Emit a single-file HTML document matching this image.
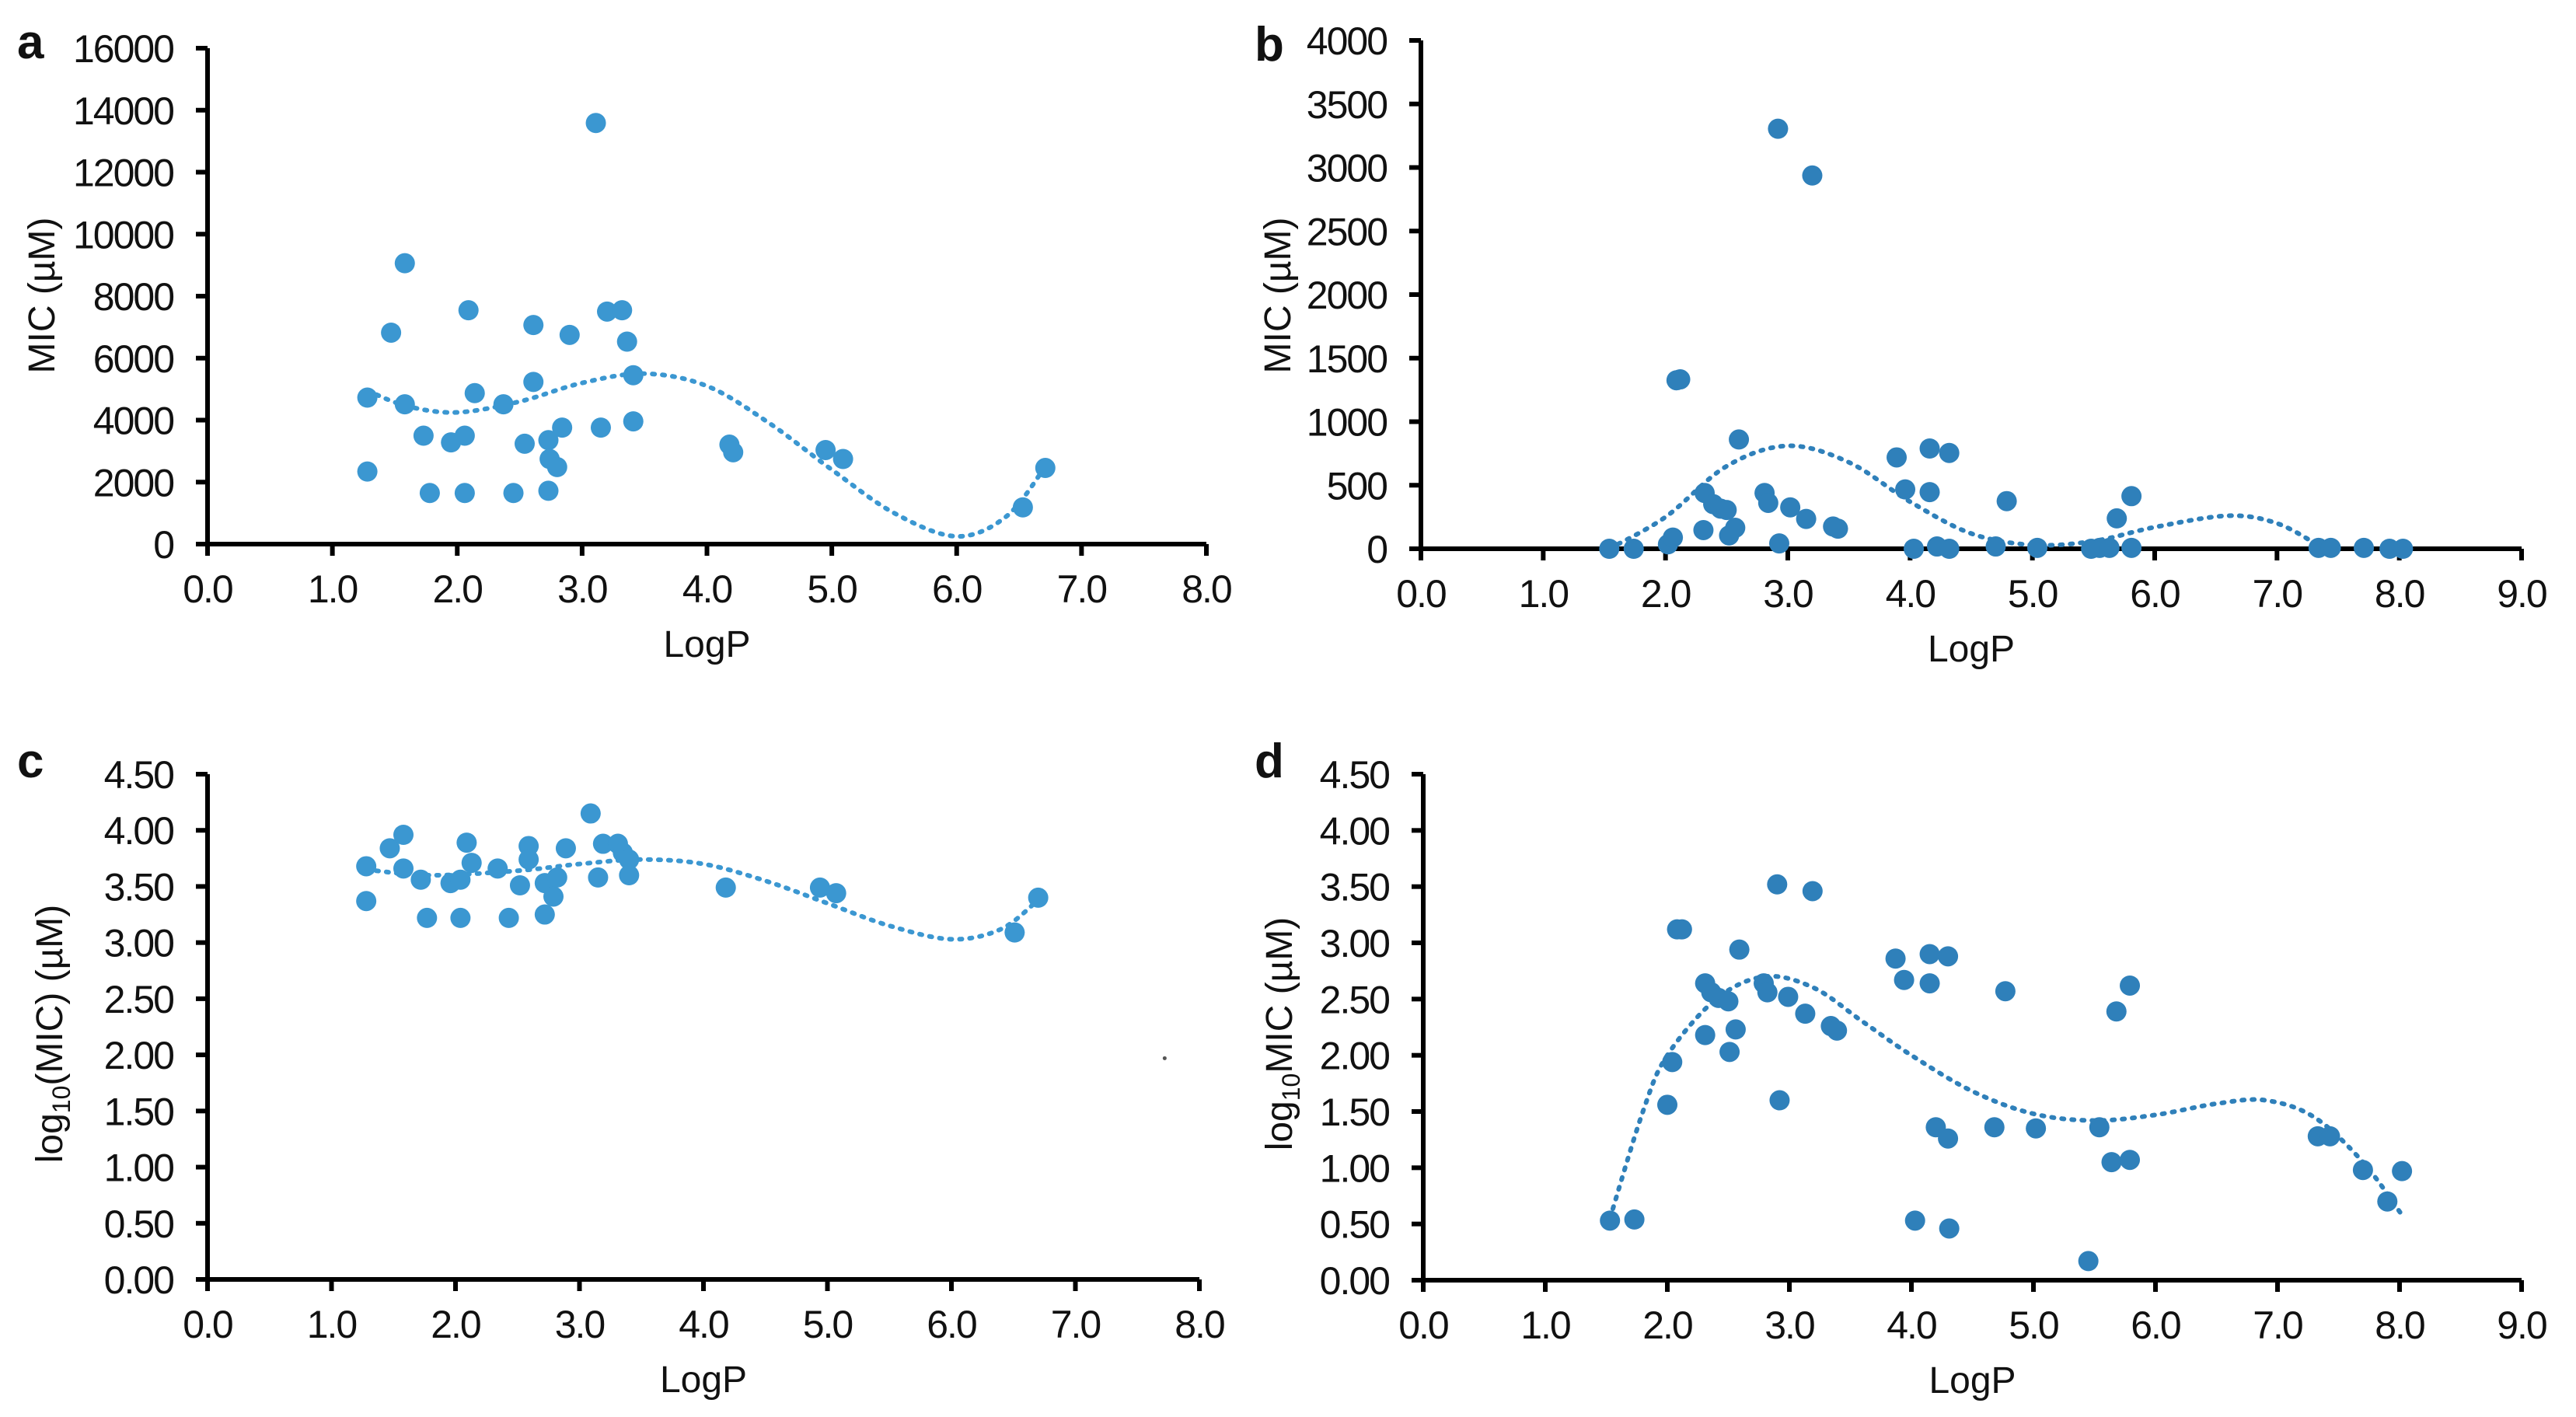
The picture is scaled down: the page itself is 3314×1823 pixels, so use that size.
<!DOCTYPE html>
<html><head><meta charset="utf-8"><style>
html,body{margin:0;padding:0;background:#fff;}
svg{display:block;}
text{font-family:"Liberation Sans",Arial,sans-serif;fill:#111;}
</style></head><body>
<svg id="fig" width="3314" height="1823" viewBox="0 0 3314 1823" xmlns="http://www.w3.org/2000/svg"></svg>
<script>
// ---- Panel a data ----
const aX = [1.28,1.28,1.47,1.58,1.58,1.73,1.78,1.95,2.06,2.06,2.09,2.14,2.37,2.45,2.54,2.61,2.61,2.73,2.73,2.74,2.80,2.84,2.90,3.11,3.15,3.20,3.32,3.36,3.41,3.41,4.18,4.21,4.95,5.09,6.53,6.71];
const aY = [4726,2341,6822,9062,4510,3498,1648,3281,3498,1648,7545,4871,4510,1648,3238,7068,5232,3353,1720,2746,2486,3758,6750,13587,3758,7502,7545,6533,5449,3960,3209,2963,3035,2746,1185,2457];
const aTrendX = [1.28,1.6,2.0,2.5,3.0,3.5,4.0,4.5,5.0,5.5,6.0,6.4,6.71];
const aTrendY = [4950,4450,4250,4600,5200,5500,5100,3900,2400,1000,250,900,2500];
const aYTicks = ["0","2000","4000","6000","8000","10000","12000","14000","16000"];
const aXTicks = ["0.0","1.0","2.0","3.0","4.0","5.0","6.0","7.0","8.0"];
// ---- Panel b data ----
const bX = [1.54,1.74,2.02,2.06,2.09,2.12,2.31,2.32,2.39,2.45,2.50,2.52,2.57,2.60,2.81,2.84,2.92,2.93,3.02,3.15,3.20,3.37,3.41,3.89,3.96,4.03,4.16,4.16,4.22,4.32,4.32,4.70,4.79,5.04,5.48,5.55,5.63,5.69,5.81,5.81,7.34,7.44,7.71,7.92,8.03];
const bY = [0,0,35,88,1326,1333,147,439,351,316,305,105,165,860,439,361,3305,42,326,235,2937,175,158,719,467,0,789,446,18,754,0,18,375,7,0,7,7,239,414,7,7,7,7,0,0];
const bTrendX = [1.54,2.0,2.5,3.0,3.5,4.0,4.5,5.0,5.5,6.0,6.6,7.0,7.35];
const bTrendY = [0,250,650,810,680,370,120,30,60,170,260,200,20];
const bYTicks = ["0","500","1000","1500","2000","2500","3000","3500","4000"];
const bXTicks = ["0.0","1.0","2.0","3.0","4.0","5.0","6.0","7.0","8.0","9.0"];
// ---- Panel c data ----
const cX = [1.28,1.28,1.47,1.58,1.58,1.72,1.77,1.96,2.04,2.04,2.09,2.13,2.34,2.43,2.52,2.59,2.59,2.72,2.72,2.79,2.82,2.89,3.09,3.15,3.19,3.31,3.35,3.40,3.40,4.18,4.94,5.07,6.51,6.70];
const cY = [3.68,3.37,3.84,3.96,3.66,3.56,3.22,3.53,3.56,3.22,3.89,3.71,3.66,3.22,3.51,3.86,3.74,3.53,3.25,3.41,3.58,3.84,4.15,3.58,3.88,3.88,3.80,3.74,3.60,3.49,3.49,3.44,3.09,3.40];
const cTrendX = [1.28,1.8,2.5,3.0,3.5,4.0,4.5,5.0,5.5,6.0,6.4,6.7];
const cTrendY = [3.65,3.6,3.64,3.7,3.74,3.7,3.55,3.35,3.15,3.03,3.12,3.38];
const cYTicks = ["0.00","0.50","1.00","1.50","2.00","2.50","3.00","3.50","4.00","4.50"];
const cXTicks = ["0.0","1.0","2.0","3.0","4.0","5.0","6.0","7.0","8.0"];
// ---- Panel d data ----
const dX = [1.53,1.73,2.00,2.04,2.08,2.12,2.31,2.31,2.36,2.42,2.50,2.51,2.56,2.59,2.79,2.82,2.90,2.92,2.99,3.13,3.19,3.34,3.39,3.87,3.94,4.03,4.15,4.15,4.20,4.30,4.30,4.31,4.68,4.77,5.02,5.45,5.54,5.64,5.68,5.79,5.79,7.33,7.43,7.70,7.90,8.02];
const dY = [0.53,0.54,1.56,1.94,3.12,3.12,2.64,2.18,2.56,2.51,2.48,2.03,2.23,2.94,2.64,2.56,3.52,1.60,2.52,2.37,3.46,2.26,2.22,2.86,2.67,0.53,2.90,2.64,1.36,2.88,1.26,0.46,1.36,2.57,1.35,0.17,1.36,1.05,2.39,1.07,2.62,1.28,1.28,0.98,0.70,0.97];
const dTrendX = [1.53,1.8,2.0,2.4,2.8,3.2,3.6,4.0,4.5,5.0,5.5,6.0,6.5,6.9,7.3,7.7,8.02];
const dTrendY = [0.55,1.5,2.0,2.5,2.7,2.6,2.3,2.0,1.68,1.48,1.42,1.47,1.57,1.6,1.45,1.05,0.58];
const dYTicks = cYTicks;
const dXTicks = bXTicks;

const NS = "http://www.w3.org/2000/svg";
const svg = document.getElementById('fig');
function mk(tag, attrs, parent){
  const e = document.createElementNS(NS, tag);
  for (const k in attrs) e.setAttribute(k, attrs[k]);
  (parent||svg).appendChild(e);
  return e;
}
function panel(id, cfg){
  const g = mk('g', {});
  
  
  const sx = v => cfg.x0 + (v - 0) / cfg.xmax * (cfg.x1 - cfg.x0);
  const sy = v => cfg.y0 - v / cfg.ymax * (cfg.y0 - cfg.ytop);
  // panel letter
  const L = mk('text', {x: cfg.lx, y: cfg.ly, 'font-size': 62, 'font-weight': 'bold'}, g);
  L.textContent = id;
  
  
  // y ticks
  const ny = cfg.yt.length - 1;
  cfg.yt.forEach((t, i) => {
    const v = cfg.ymax * i / ny;
    const y = sy(v);
    const tk = mk('line', {x1: cfg.x0 - 15, x2: cfg.x0, y1: y, y2: y, stroke: '#000', 'stroke-width': 6}, g);
    
    
    const tx = mk('text', {x: cfg.x0 - 44, y: y + 18, 'font-size': 50, 'text-anchor': 'end', 'letter-spacing': -2}, g);
    tx.textContent = t;
    
    
  });
  const nx = cfg.xt.length - 1;
  cfg.xt.forEach((t, i) => {
    const x = sx(cfg.xmax * i / nx);
    const tk = mk('line', {x1: x, x2: x, y1: cfg.y0, y2: cfg.y0 + 15, stroke: '#000', 'stroke-width': 6}, g);
    
    
    const tx = mk('text', {x: x, y: cfg.y0 + 75, 'font-size': 50, 'text-anchor': 'middle', 'letter-spacing': -2}, g);
    tx.textContent = t;
    
    
  });
  const ax = mk('path', {d: `M${cfg.x0},${cfg.ytop} V${cfg.y0} H${cfg.x1}`, fill: 'none', stroke: '#000', 'stroke-width': 6}, g);
  
  
  // titles
  const xt = mk('text', {x: (cfg.x0 + cfg.x1) / 2, y: cfg.y0 + 145, 'font-size': 48, 'text-anchor': 'middle'}, g);
  xt.textContent = 'LogP';
  
  
  const yt = mk('text', {x: 0, y: 0, 'font-size': 48, 'text-anchor': 'middle', transform: `translate(${cfg.tx},${cfg.ty}) rotate(-90)`}, g);
  yt.innerHTML = cfg.title;
  
  
  // trend (smooth through samples)
  const P = cfg.tX.map((x, i) => [sx(x), sy(cfg.tY[i])]);
  let d = `M${P[0][0]},${P[0][1]}`;
  for (let i = 0; i < P.length - 1; i++) {
    const p0 = P[Math.max(0, i - 1)], p1 = P[i], p2 = P[i + 1], p3 = P[Math.min(P.length - 1, i + 2)];
    const c1 = [p1[0] + (p2[0] - p0[0]) / 6, p1[1] + (p2[1] - p0[1]) / 6];
    const c2 = [p2[0] - (p3[0] - p1[0]) / 6, p2[1] - (p3[1] - p1[1]) / 6];
    d += ` C${c1[0]},${c1[1]} ${c2[0]},${c2[1]} ${p2[0]},${p2[1]}`;
  }
  const tr = mk('path', {d: d, fill: 'none', stroke: cfg.color, 'stroke-width': 6, 'stroke-dasharray': '3 10', 'stroke-linecap': 'round'}, g);
  
  
  cfg.X.forEach((x, i) => {
    const c = mk('circle', {cx: sx(x), cy: sy(cfg.Y[i]), r: 13, fill: cfg.color}, g);
    
    
  });
  return {sx, sy, g};
}
const pa = panel('a', {x0: 267, x1: 1552, y0: 700, ytop: 62, xmax: 8, ymax: 16000, yt: aYTicks, xt: aXTicks, X: aX, Y: aY, tX: aTrendX, tY: aTrendY, color: '#3b97d1', lx: 22, ly: 75, tx: 70, ty: 380, title: 'MIC (µM)'});
const pb = panel('b', {x0: 1828, x1: 3244, y0: 706, ytop: 52, xmax: 9, ymax: 4000, yt: bYTicks, xt: bXTicks, X: bX, Y: bY, tX: bTrendX, tY: bTrendY, color: '#2f80ba', lx: 1614, ly: 78, tx: 1660, ty: 380, title: 'MIC (µM)'});
const pc = panel('c', {x0: 267, x1: 1543, y0: 1646, ytop: 996, xmax: 8, ymax: 4.5, yt: cYTicks, xt: cXTicks, X: cX, Y: cY, tX: cTrendX, tY: cTrendY, color: '#3b97d1', lx: 22, ly: 1000, tx: 80, ty: 1330, title: 'log<tspan font-size="32" dy="10">10</tspan><tspan dy="-10">(MIC) (µM)</tspan>'});
const pd = panel('d', {x0: 1831, x1: 3244, y0: 1647, ytop: 996, xmax: 9, ymax: 4.5, yt: dYTicks, xt: dXTicks, X: dX, Y: dY, tX: dTrendX, tY: dTrendY, color: '#2f80ba', lx: 1614, ly: 1000, tx: 1662, ty: 1330, title: 'log<tspan font-size="32" dy="10">10</tspan><tspan dy="-10">MIC (µM)</tspan>'});
const speck = mk('circle', {cx: pc.sx(7.72), cy: pc.sy(1.97), r: 2.5, fill: '#555'});


</script>
</body></html>
